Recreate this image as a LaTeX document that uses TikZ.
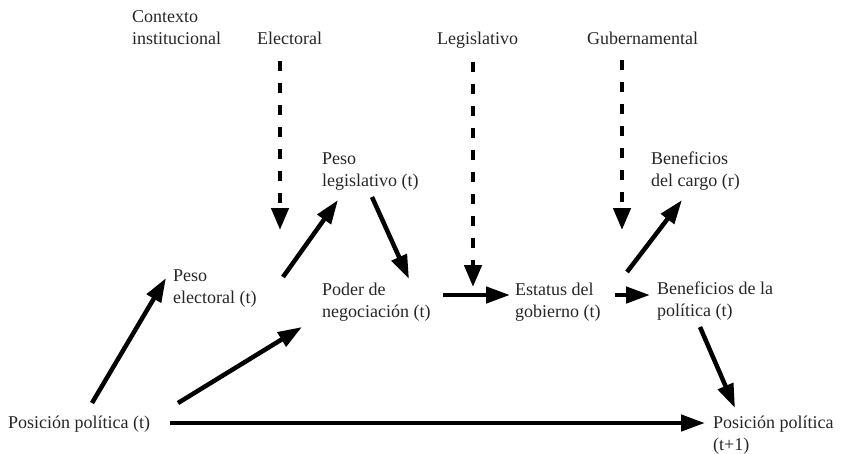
\documentclass[tikz,border=0pt]{standalone}
\usepackage{fontspec}
\setmainfont{Liberation Serif}
\usetikzlibrary{positioning, arrows.meta}
\tikzset{
  lbl/.style={anchor=north west, align=left, inner sep=0pt, text=black!85,
              font=\fontsize{18}{22}\selectfont},
  arr/.style={-{Triangle[length=24pt, width=16pt]}, line width=4.5pt},
  inst/.style={-{Triangle[length=22pt, width=17pt]}, line width=4.5pt,
               dash pattern=on 10pt off 12pt},
}

\begin{document}
\begin{tikzpicture}[x=1pt, y=-1pt]
  \useasboundingbox (0,0) rectangle (842,453);
  % institutional context
  \node[lbl] (ctx)  at (132,10) {Contexto\\institucional};
  \node[lbl] (elec) at (257,32) {Electoral};
  \node[lbl] (leg)  at (437,32) {Legislativo};
  \node[lbl] (gub)  at (587,32) {Gubernamental};
  % states
  \node[lbl] (pesoleg)  at (322,153) {Peso\\legislativo (t)};
  \node[lbl] (cargo)    at (651,152) {Beneficios\\del cargo (r)};
  \node[lbl] (pesoelec) at (173,270) {Peso\\electoral (t)};
  \node[lbl] (poder)    at (322,283) {Poder de\\negociación (t)};
  \node[lbl] (estatus)  at (515,283) {Estatus del\\gobierno (t)};
  \node[lbl] (benef)    at (657,282) {Beneficios de la\\política (t)};
  \node[lbl] (pos)      at (8,416)   {Posición política (t)};
  \node[lbl] (posnext)  at (713,416) {Posición política\\(t+1)};

  % dashed influences
  \draw[inst] ([shift={(23,29)}]elec.north west) -- ([shift={(23,198)}]elec.north west);
  \draw[inst] ([shift={(36,30)}]leg.north west)  -- ([shift={(36,255)}]leg.north west);
  \draw[inst] ([shift={(35,28)}]gub.north west)  -- ([shift={(35,198)}]gub.north west);

  % causal links
  \draw[arr] ([shift={(84,-13)}]pos.north west)   -- ([shift={(-7,8)}]pesoelec.north west);
  \draw[arr] ([shift={(170,-13)}]pos.north west)  -- ([shift={(-20,44)}]poder.north west);
  \draw[arr] ([shift={(162,7)}]pos.north west)    -- ([shift={(-8,7)}]posnext.north west);
  \draw[arr] ([shift={(110,7)}]pesoelec.north west) -- ([shift={(16,47)}]pesoleg.north west);
  \draw[arr] ([shift={(50,44)}]pesoleg.north west)  -- ([shift={(87,-4)}]poder.north west);
  \draw[arr] ([shift={(121,12)}]poder.north west)   -- ([shift={(-5,12)}]estatus.north west);
  \draw[arr] ([shift={(100,12)}]estatus.north west) -- ([shift={(-7,13)}]benef.north west);
  \draw[arr] ([shift={(-30,-10)}]benef.north west)  -- ([shift={(31,48)}]cargo.north west);
  \draw[arr] ([shift={(43,45)}]benef.north west)    -- ([shift={(22,-8)}]posnext.north west);
\end{tikzpicture}
\end{document}
